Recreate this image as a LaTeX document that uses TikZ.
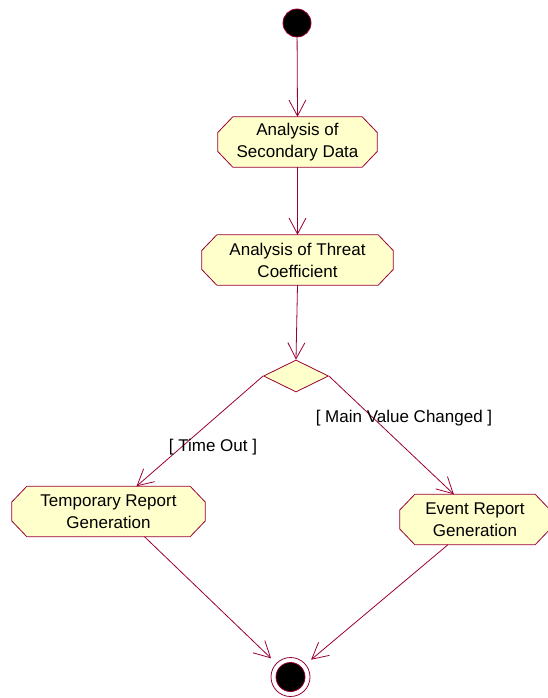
\documentclass[tikz,border=0pt]{standalone}
\usepackage{fontspec}
\setmainfont{Liberation Sans}
\usetikzlibrary{shapes.geometric,arrows.meta,backgrounds}
\definecolor{umlline}{RGB}{153,0,51}
\definecolor{umlfill}{RGB}{255,255,204}
% outline of an activity: a box with cut corners behind node #1
\newcommand{\actoutline}[1]{%
  \filldraw[actedge] ([xshift=15pt]#1.north west) -- ([xshift=-15pt]#1.north east)
    -- ([yshift=9.5pt]#1.east) -- ([yshift=-9.5pt]#1.east)
    -- ([xshift=-15pt]#1.south east) -- ([xshift=15pt]#1.south west)
    -- ([yshift=-9.5pt]#1.west) -- ([yshift=9.5pt]#1.west) -- cycle;}
\begin{document}
\begin{tikzpicture}[x=1pt,y=-1pt,
  activity/.style={rectangle, inner sep=0pt, align=center,
    font=\fontsize{17}{22}\selectfont, minimum height=50pt},
  actedge/.style={draw=umlline, fill=umlfill, line width=0.8pt, line join=miter},
  flow/.style={draw=umlline, line width=0.8pt,
    -{Straight Barb[length=16pt,width=17pt]}},
  guard/.style={font=\fontsize{17}{22}\selectfont},
  startdot/.style={circle, fill=black, draw=umlline, line width=0.8pt,
    minimum size=28pt, inner sep=0pt},
  decision/.style={diamond, draw=umlline, fill=umlfill, line width=0.8pt,
    minimum width=65pt, minimum height=32pt, inner sep=0pt},
]
\useasboundingbox (0,0) rectangle (548,698);

% activity nodes
\node[startdot] (start) at (297,23) {};
\node[activity, minimum width=159pt] (sec) at (297.5,142) {Analysis of\\Secondary Data};
\node[activity, minimum width=191pt] (thr) at (297.5,260) {Analysis of Threat\\Coefficient};
\node[decision] (dec) at (296,376) {};
\node[activity, minimum width=193pt] (tmp) at (108.5,511.5) {Temporary Report\\Generation};
\node[activity, minimum width=150pt] (evt) at (475,519.5) {Event Report\\Generation};

\begin{scope}[on background layer]
  \actoutline{sec}
  \actoutline{thr}
  \actoutline{tmp}
  \actoutline{evt}
\end{scope}

% final state
\node[circle, draw=umlline, fill=white, line width=0.8pt, minimum size=39pt,
  inner sep=0pt] (fin) at (290.5,677) {};
\node[startdot, minimum size=29pt] (findot) at (fin) {};

% transitions
\draw[flow] (start) -- (sec.north);
\draw[flow] (sec.south) -- (thr.north);
\draw[flow] (thr.south) -- (dec.north);
\draw[flow] (dec.west) -- (tmp.42);
\draw[flow] (dec.east) -- (evt.130);
\draw[flow, shorten >=7pt] (tmp.-35) -- (fin);
\draw[flow, shorten >=7pt] (evt.-137) -- (fin);

% guards
\node[guard] (g1) at (213,447) {[ Time Out ]};
\node[guard] (g2) at (404,418) {[ Main Value Changed ]};
\end{tikzpicture}
\end{document}
